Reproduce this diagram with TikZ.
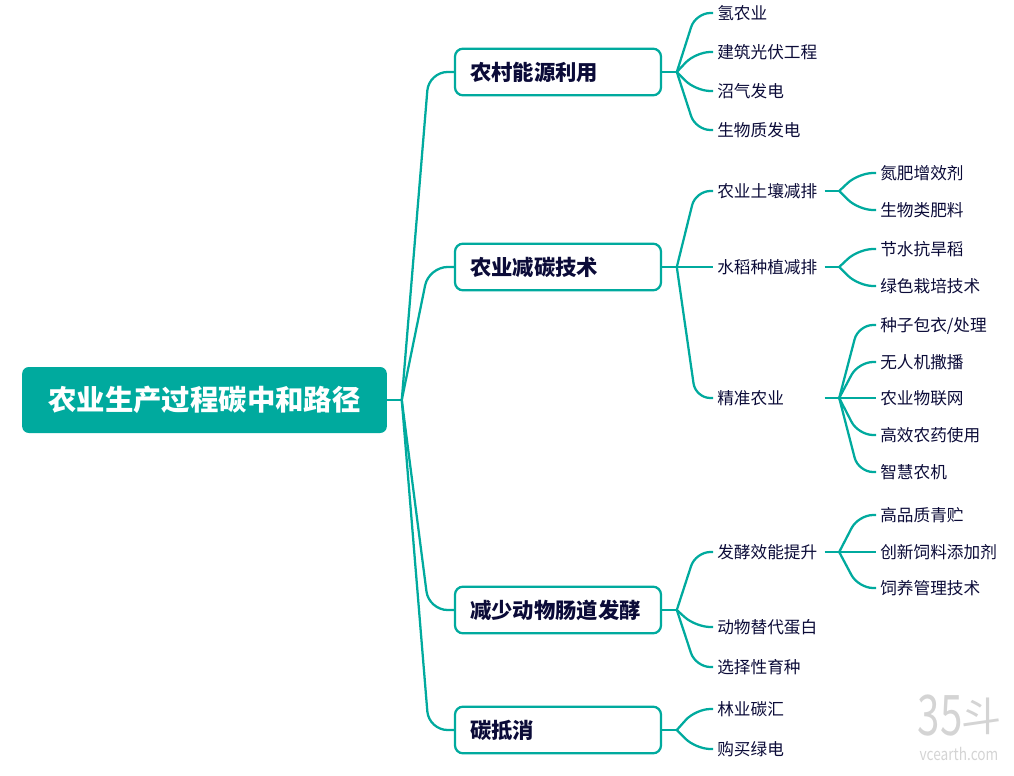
\documentclass[tikz,border=0pt]{standalone}
\usepackage{fontspec}
\setmainfont{Noto Sans CJK SC}
\usepackage{xcolor}
\usetikzlibrary{calc}
\definecolor{mapteal}{HTML}{00AA9E}
\definecolor{mapnavy}{HTML}{0B0B38}
\definecolor{markgray}{HTML}{D4D4D4}
\newcommand{\linkto}[3]{\draw[link,rounded corners=#3] let \p1=(#1),\p2=(#2.west) in (\p1) -- ({\x1+.52*(\x2-\x1)},\y2) -- (\p2);}

\begin{document}
\begin{tikzpicture}[x=0.75pt,y=-0.75pt,
  link/.style={mapteal,line width=1.7pt},
  rootbox/.style={fill=mapteal,text=white,rounded corners=5pt,minimum width=273.5pt,minimum height=49.5pt,font=\fontsize{21.3}{24}\selectfont\bfseries},
  branchbox/.style={draw=mapteal,line width=1.7pt,fill=white,text=mapnavy,rounded corners=6pt,text width=132pt,inner xsep=11.25pt,minimum height=35pt,font=\fontsize{16}{19}\selectfont\bfseries},
  leaf/.style={anchor=west,text=mapnavy,inner xsep=3pt,inner ysep=1pt,text height=10.5pt,text depth=1.5pt,font=\fontsize{12.5}{15}\selectfont},
  midleaf/.style={leaf,text width=77.25pt}]
  \useasboundingbox (0,0) rectangle (1014,775);
  % root and branches
  \node[rootbox] (root) at (204.5,400) {农业生产过程碳中和路径};
  \node[branchbox] (rural) at (558,72) {农村能源利用};
  \node[branchbox] (tech) at (558,267) {农业减碳技术};
  \node[branchbox] (rumen) at (558,610) {减少动物肠道发酵};
  \node[branchbox] (offset) at (558,730) {碳抵消};
  % rural energy
  \node[leaf] (hydrogen) at (713,13) {氢农业};
  \node[leaf] (solar) at (713,52) {建筑光伏工程};
  \node[leaf] (biogas) at (713,91) {沼气发电};
  \node[leaf] (biomass) at (713,130) {生物质发电};
  % emission reduction
  \node[midleaf] (soil) at (713,191) {农业土壤减排};
  \node[midleaf] (paddy) at (713,267) {水稻种植减排};
  \node[midleaf] (precise) at (713,398) {精准农业};
  \node[leaf] (nitrogen) at (876,173) {氮肥增效剂};
  \node[leaf] (biofert) at (876,210) {生物类肥料};
  \node[leaf] (drought) at (876,249) {节水抗旱稻};
  \node[leaf] (green) at (876,286) {绿色栽培技术};
  \node[leaf] (seed) at (876,325) {种子包衣/处理};
  \node[leaf] (drone) at (876,362) {无人机撒播};
  \node[leaf] (iot) at (876,398) {农业物联网};
  \node[leaf] (pesticide) at (876,435) {高效农药使用};
  \node[leaf] (machine) at (876,472) {智慧农机};
  % enteric fermentation
  \node[midleaf] (ferment) at (713,552) {发酵效能提升};
  \node[leaf] (protein) at (713,627) {动物替代蛋白};
  \node[leaf] (breed) at (713,667) {选择性育种};
  \node[leaf] (silage) at (876,515) {高品质青贮};
  \node[leaf] (additive) at (876,552) {创新饲料添加剂};
  \node[leaf] (feeding) at (876,588) {饲养管理技术};
  % offsets
  \node[leaf] (forest) at (713,709) {林业碳汇};
  \node[leaf] (greenpower) at (713,749) {购买绿电};
  % junctions
  \foreach \n in {root,rural,tech,rumen,offset,soil,paddy,precise,ferment}{
    \coordinate (j\n) at ([xshift=11pt]\n.east);
    \draw[link] (\n.east) -- (j\n);
  }
  \foreach \k in {rural,tech,rumen,offset}{\linkto{jroot}{\k}{14pt}}
  \foreach \k in {hydrogen,solar,biogas,biomass}{\linkto{jrural}{\k}{11pt}}
  \foreach \k in {soil,paddy,precise}{\linkto{jtech}{\k}{11pt}}
  \foreach \k in {ferment,protein,breed}{\linkto{jrumen}{\k}{11pt}}
  \foreach \k in {forest,greenpower}{\linkto{joffset}{\k}{11pt}}
  \foreach \k in {nitrogen,biofert}{\linkto{jsoil}{\k}{11pt}}
  \foreach \k in {drought,green}{\linkto{jpaddy}{\k}{11pt}}
  \foreach \k in {seed,drone,iot,pesticide,machine}{\linkto{jprecise}{\k}{11pt}}
  \foreach \k in {silage,additive,feeding}{\linkto{jferment}{\k}{11pt}}
  % mark in the corner
  \node[text=markgray,inner sep=0pt,xscale=.72,font=\fontsize{42}{44}\selectfont] (markdigits) at (940,716) {35};
  \node[text=markgray,inner sep=0pt,font=\fontsize{30}{32}\selectfont] (markglyph) at (981,716) {斗};
  \node[text=markgray,inner sep=0pt,xscale=.82,font=\fontsize{12.5}{14}\selectfont] (markurl) at (959,754) {vcearth.com};
\end{tikzpicture}
\end{document}
